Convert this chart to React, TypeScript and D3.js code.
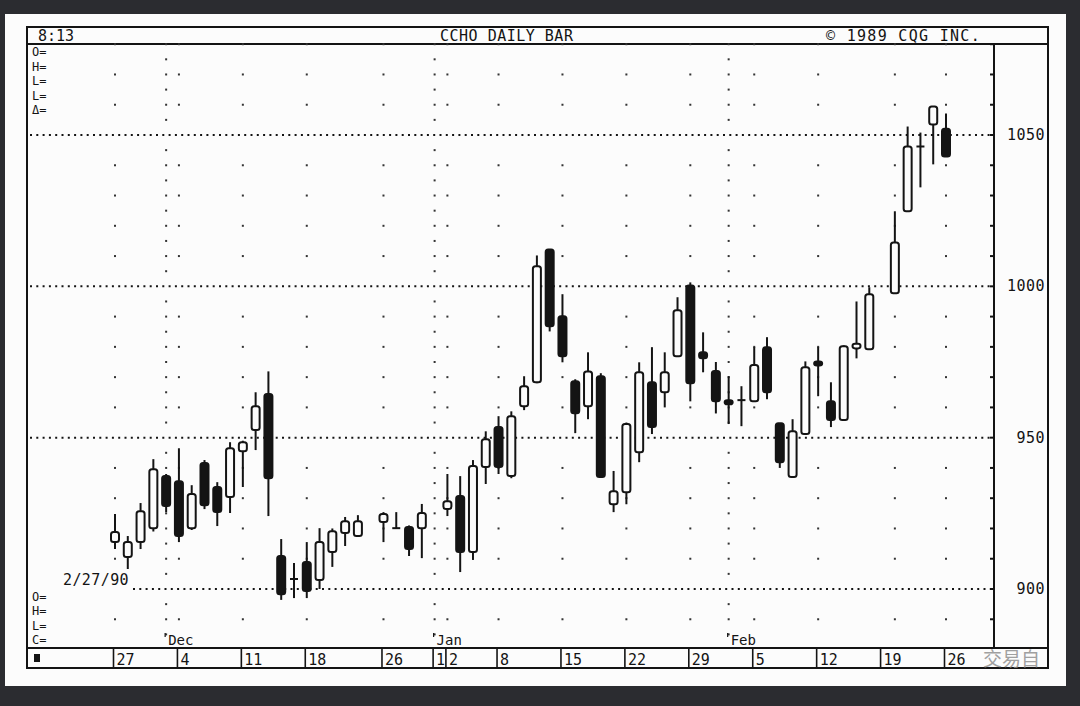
import React from "react";
import * as d3 from "d3";

// ---- data ----
const dates = [
  "1989-11-27","1989-11-28","1989-11-29","1989-11-30","1989-12-01",
  "1989-12-04","1989-12-05","1989-12-06","1989-12-07","1989-12-08",
  "1989-12-11","1989-12-12","1989-12-13","1989-12-14","1989-12-15",
  "1989-12-18","1989-12-19","1989-12-20","1989-12-21","1989-12-22",
  "1989-12-26","1989-12-27","1989-12-28","1989-12-29",
  "1990-01-02","1990-01-03","1990-01-04","1990-01-05",
  "1990-01-08","1990-01-09","1990-01-10","1990-01-11","1990-01-12",
  "1990-01-15","1990-01-16","1990-01-17","1990-01-18","1990-01-19",
  "1990-01-22","1990-01-23","1990-01-24","1990-01-25","1990-01-26",
  "1990-01-29","1990-01-30","1990-01-31","1990-02-01","1990-02-02",
  "1990-02-05","1990-02-06","1990-02-07","1990-02-08","1990-02-09",
  "1990-02-12","1990-02-13","1990-02-14","1990-02-15","1990-02-16",
  "1990-02-20","1990-02-21","1990-02-22","1990-02-23",
  "1990-02-26",
];
const opens = [
  915.5, 910.6, 915.5, 920.1, 937.3,
  935.6, 920.1, 941.6, 933.7, 930.4,
  945.5, 952.5, 964.4, 910.9, 903.3,
  908.9, 903.0, 912.2, 918.5, 917.5,
  922.1, 920.1, 920.5, 920.1,
  926.4, 930.7, 912.2, 940.3,
  953.5, 937.3, 960.4, 968.3, 1012.2,
  990.1, 968.6, 960.4, 970.3, 928.0,
  932.0, 945.2, 968.3, 965.0, 976.9,
  1000.3, 978.2, 972.0, 962.4, 962.4,
  962.0, 979.9, 954.8, 937.0, 951.2,
  975.0, 962.0, 955.8, 979.5, 979.2,
  997.7, 1024.8, 1046.2, 1053.5,
  1052.1,
];
const highs = [
  924.8, 917.5, 928.4, 942.9, 938.0,
  946.5, 934.3, 942.6, 935.3, 948.5,
  949.0, 965.0, 971.9, 916.5, 908.6,
  915.5, 920.1, 920.0, 923.8, 924.4,
  925.4, 925.4, 921.0, 928.1,
  938.0, 937.3, 942.6, 952.1,
  957.1, 958.7, 970.3, 1010.2, 1012.2,
  997.4, 969.3, 978.2, 971.3, 939.0,
  955.0, 974.9, 979.9, 978.2, 996.4,
  1001.3, 984.8, 975.0, 970.3, 967.0,
  979.9, 983.2, 954.8, 956.1, 975.2,
  979.9, 968.3, 980.5, 995.0, 999.7,
  1024.8, 1052.8, 1050.8, 1059.4,
  1057.1,
];
const lows = [
  913.2, 906.6, 913.2, 919.0, 925.4,
  915.5, 919.5, 926.4, 920.8, 925.1,
  933.7, 945.9, 924.1, 896.4, 897.0,
  897.0, 900.0, 907.3, 914.2, 917.5,
  915.5, 920.1, 910.9, 910.2,
  924.1, 905.6, 909.6, 934.7,
  938.0, 936.6, 959.1, 968.0, 985.1,
  974.9, 951.5, 956.1, 937.0, 925.4,
  928.0, 941.9, 951.2, 960.0, 976.9,
  962.0, 971.6, 958.0, 954.5, 953.8,
  962.0, 962.7, 940.0, 937.0, 951.2,
  963.7, 953.5, 955.8, 976.2, 979.2,
  997.7, 1024.8, 1032.7, 1040.3,
  1042.9,
];
const closes = [
  918.8, 915.5, 925.7, 939.6, 927.4,
  917.5, 931.4, 927.7, 925.4, 946.5,
  948.5, 960.4, 936.6, 898.3, 903.3,
  899.3, 915.5, 919.1, 922.4, 922.4,
  924.8, 920.1, 913.2, 925.1,
  929.0, 912.2, 940.6, 949.5,
  940.3, 957.1, 967.0, 1006.6, 986.8,
  976.9, 958.1, 971.9, 937.0, 932.3,
  954.5, 971.6, 953.5, 971.6, 992.1,
  968.0, 976.2, 962.0, 961.0, 962.4,
  974.0, 965.0, 941.9, 952.1, 973.3,
  974.0, 955.8, 980.2, 981.0, 997.4,
  1014.5, 1046.2, 1046.2, 1059.4,
  1042.9,
];

const priceLines = [900, 950, 1000, 1050];
const axisLabels = ["900", "950", "1000", "1050"];
const weekStarts = [
  "1989-11-27","1989-12-04","1989-12-11","1989-12-18","1989-12-26",
  "1990-01-02","1990-01-08","1990-01-15","1990-01-22","1990-01-29",
  "1990-02-05","1990-02-12","1990-02-20","1990-02-26",
];
const monthStarts = ["1989-12-01", "1990-01-01", "1990-02-01"];
const monthLabels = ["Dec", "Jan", "Feb"];
const rowDates = [
  "1989-11-27","1989-12-04","1989-12-11","1989-12-18","1989-12-26",
  "1990-01-01","1990-01-02","1990-01-08","1990-01-15","1990-01-22",
  "1990-01-29","1990-02-05","1990-02-12","1990-02-19","1990-02-26",
];
const rowLabels = ["27","4","11","18","26","1","2","8","15","22","29","5","12","19","26"];
const topLabels = ["O=", "H=", "L=", "L=", "Δ="];
const bottomLabels = ["O=", "H=", "L=", "C="];

// ---- helpers ----
const start = Date.UTC(1989, 10, 27);
function slot(s: string): number {
  const [y, m, d] = s.split("-").map(Number);
  const days = Math.round((Date.UTC(y, m - 1, d) - start) / 864e5);
  return Math.floor(days / 7) * 5 + (days % 7);
}

const W = 1080, H = 706;
const L = 27, R = 994, T = 44, B = 648, FR = 1048, TOP = 27, ROWB = 668;
const x = d3.scaleLinear().domain([0, 65]).range([115, 946]);
const y = d3.scaleLinear().domain([900, 1050]).range([589, 135]);
const ink = "#141414";
const mono = "'DejaVu Sans Mono', 'Liberation Mono', monospace";

export default function App() {
  const pMin = y.invert(B), pMax = y.invert(T);
  const tens = d3.range(Math.ceil(pMin / 10) * 10, pMax, 10);
  const fives = d3.range(Math.ceil(pMin / 5) * 5, pMax, 5);
  const bw = 8;

  return (
    <div style={{ position: "fixed", left: 0, top: 0, width: W, height: H }}>
      <svg width={W} height={H} style={{ display: "block" }}>
        <rect x={0} y={0} width={W} height={H} fill="#2b2c30" />
        <rect x={5} y={14} width={1061} height={672} fill="#fcfcfc" />

        {/* frames */}
        <rect x={L} y={TOP} width={FR - L} height={ROWB - TOP} fill="none" stroke={ink} strokeWidth={2} />
        <line x1={L} x2={FR} y1={T} y2={T} stroke={ink} strokeWidth={2} />
        <line x1={R} x2={R} y1={T} y2={B} stroke={ink} strokeWidth={2} />
        <line x1={L} x2={FR} y1={B} y2={B} stroke={ink} strokeWidth={2} />

        {/* header */}
        <g fontFamily={mono} fontSize={15} fill={ink}>
          <text x={38} y={41}>8:13</text>
          <text x={440} y={41} letterSpacing={0.5}>CCHO DAILY BAR</text>
          <text x={826} y={41} letterSpacing={1.3}>© 1989 CQG INC.</text>
        </g>

        {/* horizontal dotted lines */}
        {priceLines.map((p) => (
          <line key={p} x1={p === 900 ? 133 : L + 3} x2={R} y1={y(p)} y2={y(p)}
            stroke={ink} strokeWidth={2} strokeDasharray="2 4.3" />
        ))}

        {/* week column dots */}
        {weekStarts.map((d) => (
          <g key={d}>
            {tens.filter((p) => p % 50 !== 0).map((p) => (
              <rect key={p} x={x(slot(d)) - 1} y={y(p) - 1} width={2} height={2} fill="#333" />
            ))}
          </g>
        ))}
        {/* month column dots */}
        {monthStarts.map((d) => (
          <g key={d}>
            {fives.filter((p) => p % 50 !== 0).map((p) => (
              <rect key={p} x={x(slot(d)) - 1} y={y(p) - 1} width={2} height={2} fill="#333" />
            ))}
          </g>
        ))}

        {/* right axis ticks & labels */}
        {tens.map((p) => (
          <line key={p} x1={R - 4} x2={R} y1={y(p)} y2={y(p)} stroke={ink} strokeWidth={2} />
        ))}
        <g fontFamily={mono} fontSize={15} fill={ink}>
          {priceLines.map((p, i) => (
            <text key={p} x={1045} y={y(p) + 5} textAnchor="end" letterSpacing={0.5}>{axisLabels[i]}</text>
          ))}
        </g>

        {/* left labels */}
        <g fontFamily={mono} fontSize={12} fill={ink}>
          {topLabels.map((t, i) => (
            <text key={"t" + i} x={32} y={56 + i * 14.6}>{t}</text>
          ))}
          {bottomLabels.map((t, i) => (
            <text key={"b" + i} x={32} y={601 + i * 14.3}>{t}</text>
          ))}
        </g>
        <text x={63} y={585} fontFamily={mono} fontSize={15} fill={ink} letterSpacing={0.4}>2/27/90</text>

        {/* month labels */}
        <g fontFamily={mono} fontSize={14} fill={ink}>
          {monthStarts.map((d, i) => (
            <g key={d}>
              <line x1={x(slot(d)) - 1} x2={x(slot(d)) - 1} y1={633} y2={637} stroke={ink} strokeWidth={1.2} />
              <text x={x(slot(d)) + 2} y={645}>{monthLabels[i]}</text>
            </g>
          ))}
        </g>

        {/* date row */}
        <rect x={34} y={654} width={6} height={8} fill={ink} />
        {rowDates.map((d, i) => {
          const sx = x(slot(d)) - 1.5;
          return (
            <g key={d}>
              <line x1={sx} x2={sx} y1={B} y2={ROWB} stroke={ink} strokeWidth={1.6} />
              <text x={sx + 3} y={665} fontFamily={mono} fontSize={15} fill={ink}>{rowLabels[i]}</text>
            </g>
          );
        })}

        {/* candles */}
        {dates.map((d, i) => {
          const cx = x(slot(d));
          const o = opens[i], c = closes[i], h = highs[i], l = lows[i];
          const top = y(Math.max(o, c)), bot = y(Math.min(o, c));
          const cross = Math.abs(o - c) < 0.01;
          const up = c > o;
          const bh = Math.max(bot - top, 4);
          const by = (top + bot) / 2 - bh / 2;
          return (
            <g key={d}>
              <line x1={cx} x2={cx} y1={y(h)} y2={y(l)} stroke={ink} strokeWidth={2} />
              {cross ? (
                <line x1={cx - bw / 2} x2={cx + bw / 2} y1={y(o)} y2={y(o)} stroke={ink} strokeWidth={2} />
              ) : (
                <rect x={cx - bw / 2} y={by} width={bw} height={bh} rx={2.5}
                  fill={up ? "#fcfcfc" : ink} stroke={ink} strokeWidth={2} />
              )}
            </g>
          );
        })}

        {/* watermark */}
        <text x={1040} y={666} textAnchor="end" fontFamily="'Noto Sans CJK SC', sans-serif"
          fontSize={19} fill="#8a8a8a" opacity={0.8}>交易自</text>
      </svg>
    </div>
  );
}
